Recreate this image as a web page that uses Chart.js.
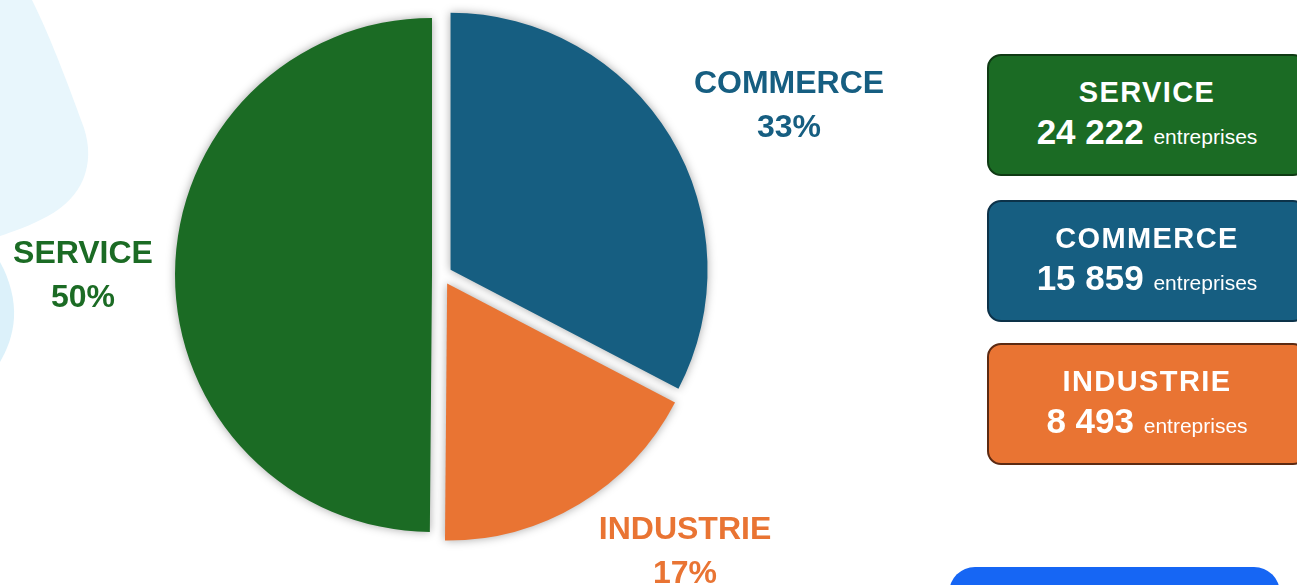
<!DOCTYPE html>
<html>
<head>
<meta charset="utf-8">
<script src="https://cdn.jsdelivr.net/npm/chart.js@4.4.1/dist/chart.umd.min.js"></script>
<style>
  html, body { margin: 0; padding: 0; background: #fff; }
  #page { position: relative; width: 1297px; height: 585px; overflow: hidden; }
  #bg { position: absolute; left: 0; top: 0; }
  #pie { position: absolute; left: 0; top: 0; }
  .lbl { position: absolute; width: 260px; margin-left: -130px; text-align: center;
         font-family: "Liberation Sans", Arial, sans-serif; font-weight: bold; font-size: 32px; line-height: 44px; }
  .box { position: absolute; left: 987px; width: 316px; height: 118px; border-radius: 14px; border: 2.5px solid;
         color: #fff; font-family: "Liberation Sans", Arial, sans-serif; text-align: center; }
  .box .t { font-weight: bold; font-size: 29px; letter-spacing: 1.4px; line-height: 30px; margin-top: 21px; }
  .box .n { font-weight: bold; font-size: 35px; line-height: 40px; margin-top: 5px; }
  .box .n span { font-weight: normal; font-size: 21px; letter-spacing: 0; }
  #btn { position: absolute; left: 949px; top: 567px; width: 331px; height: 60px; border-radius: 26px; background: #1666f4; }
</style>
</head>
<body>
<div id="page">
  <svg id="bg" width="300" height="585">
    <path d="M0,0 L32,0 C52,40 72,95 84,128 C96,165 82,198 48,216 C30,226 12,232 0,236 Z" fill="#e8f6fc"/>
    <path d="M0,262 C10,280 15,300 14,318 C13,335 7,350 0,362 Z" fill="#dcf1fa"/>
  </svg>
  <canvas id="pie" width="1297" height="585"></canvas>
</div>
<script>
const categories = ['COMMERCE', 'INDUSTRIE', 'SERVICE'];
const counts = [15859, 8493, 24222];
const percentLabels = ['33%', '17%', '50%'];
const countLabels = ['15 859', '8 493', '24 222'];
const colors = ['#165e81', '#e97433', '#1b6b24'];
const borders = ['#0c3249', '#5c2a12', '#0f3a14'];

// layout only: where the outside labels and side boxes sit
const labelPos = [[789, 60], [685, 506], [83, 230]];
const boxOrder = [2, 0, 1];
const boxTops = [54, 200, 343];
const explode = 10;

const page = document.getElementById('page');
categories.forEach((c, i) => {
    const d = document.createElement('div');
    d.className = 'lbl';
    d.style.left = labelPos[i][0] + 'px';
    d.style.top = labelPos[i][1] + 'px';
    d.style.color = colors[i];
    d.innerHTML = c + '<br>' + percentLabels[i];
    page.appendChild(d);
});
boxOrder.forEach((i, k) => {
    const b = document.createElement('div');
    b.className = 'box';
    b.style.top = boxTops[k] + 'px';
    b.style.background = colors[i];
    b.style.borderColor = borders[i];
    b.innerHTML = '<div class="t">' + categories[i] + '</div><div class="n">' + countLabels[i] + ' <span>entreprises</span></div>';
    page.appendChild(b);
});
const btn = document.createElement('div');
btn.id = 'btn';
page.appendChild(btn);

// move every slice out along its middle angle without growing its radius
// (the built-in offset option also enlarges the half-circle slice)
const explodeSlices = {
    id: 'explodeSlices',
    afterDatasetUpdate(chart, args) {
        args.meta.data.forEach((arc) => {
            const mid = (arc.startAngle + arc.endAngle) / 2;
            arc.x += Math.cos(mid) * explode;
            arc.y += Math.sin(mid) * explode;
        });
    }
};

const shadow = {
    id: 'shadow',
    beforeDatasetsDraw(chart) {
        const ctx = chart.ctx;
        ctx.save();
        ctx.shadowColor = 'rgba(0,0,0,0.35)';
        ctx.shadowBlur = 10;
    },
    afterDatasetsDraw(chart) {
        chart.ctx.restore();
    }
};

new Chart(document.getElementById('pie'), {
    type: 'pie',
    data: {
        labels: categories,
        datasets: [{
            data: counts,
            backgroundColor: colors,
            borderWidth: 0,
            radius: 257
        }]
    },
    options: {
        responsive: false,
        animation: false,
        events: [],
        layout: { padding: { left: 0, right: 413, top: 0, bottom: 35 } },
        plugins: { legend: { display: false }, tooltip: { enabled: false } }
    },
    plugins: [explodeSlices, shadow]
});
</script>
</body>
</html>
